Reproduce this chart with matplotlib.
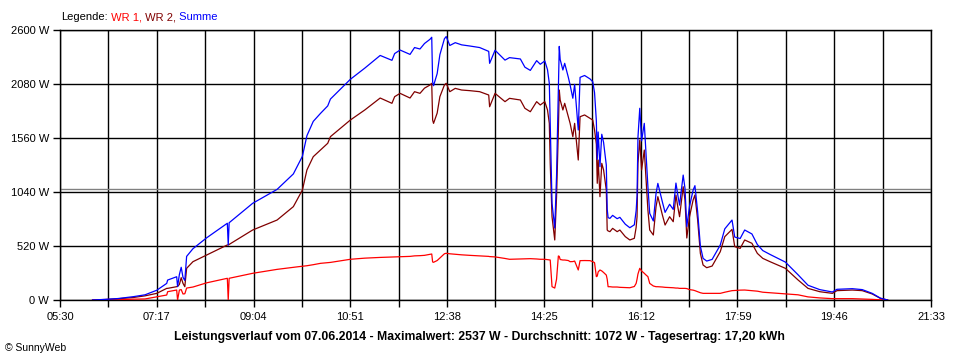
import matplotlib
matplotlib.use("Agg")
import matplotlib.pyplot as plt
from matplotlib.ticker import FixedLocator, FixedFormatter

plt.rcParams["font.family"] = ["Liberation Sans", "DejaVu Sans"]

# Leistungsverlauf 07.06.2014
times = [
    "06:06", "06:20", "06:34", "06:51", "07:04", "07:17", "07:28", "07:29", "07:39", "07:40",
    "07:42", "07:44", "07:46", "07:48", "07:50", "07:57", "08:12", "08:35", "08:36", "08:37",
    "09:03", "09:30", "09:48", "09:53", "09:58", "10:03", "10:10", "10:18", "10:26", "10:29",
    "10:51", "11:07", "11:24", "11:37", "11:40", "11:46", "11:57", "12:02", "12:08", "12:13",
    "12:19", "12:21", "12:22", "12:23", "12:27", "12:30", "12:35", "12:37", "12:41", "12:47",
    "12:54", "13:03", "13:14", "13:24", "13:25", "13:31", "13:42", "13:47", "13:59", "14:04",
    "14:10", "14:17", "14:21", "14:26", "14:29", "14:31", "14:32", "14:34", "14:37", "14:39",
    "14:41", "14:42", "14:43", "14:46", "14:48", "14:52", "14:54", "14:57", "14:59", "15:03",
    "15:05", "15:10", "15:16", "15:19", "15:21", "15:23", "15:24", "15:25", "15:27", "15:29",
    "15:31", "15:34", "15:35", "15:36", "15:38", "15:41", "15:46", "15:49", "15:55", "16:00",
    "16:05", "16:07", "16:08", "16:09", "16:11", "16:13", "16:16", "16:18", "16:20", "16:22",
    "16:26", "16:29", "16:31", "16:36", "16:39", "16:44", "16:48", "16:51", "16:53", "16:55",
    "16:59", "17:01", "17:03", "17:06", "17:10", "17:12", "17:15", "17:18", "17:21", "17:25",
    "17:31", "17:40", "17:45", "17:53", "17:56", "18:02", "18:07", "18:15", "18:21", "18:27",
    "18:35", "18:52", "19:06", "19:17", "19:30", "19:44", "19:49", "20:06", "20:17", "20:28",
    "20:37", "20:45",
]
wr1 = [
    0, 1, 2, 8, 10, 30, 48, 80, 96, 0,
    96, 100, 58, 60, 115, 125, 165, 209, 0, 209,
    257, 295, 315, 320, 325, 330, 340, 353, 360, 362,
    392, 403, 410, 414, 415, 417, 420, 425, 427, 430,
    440, 443, 366, 363, 380, 404, 445, 450, 445, 440,
    435, 430, 425, 420, 418, 415, 400, 392, 395, 396,
    398, 395, 392, 392, 388, 385, 385, 128, 115, 200,
    424, 420, 390, 385, 385, 380, 369, 370, 375, 289,
    379, 380, 379, 369, 360, 225, 230, 270, 289, 280,
    265, 240, 200, 128, 128, 125, 125, 122, 120, 118,
    130, 160, 200, 250, 305, 280, 257, 240, 225, 160,
    135, 128, 128, 125, 122, 120, 118, 115, 115, 112,
    112, 112, 110, 100, 95, 90, 80, 70, 64, 64,
    64, 64, 75, 90, 92, 95, 96, 90, 85, 75,
    70, 60, 50, 30, 20, 13, 13, 13, 10, 6,
    2, 0,
]
wr2 = [
    0, 5, 12, 24, 40, 64, 112, 112, 128, 130,
    150, 215, 160, 128, 305, 369, 433, 530, 530, 535,
    674, 770, 899, 980, 1059, 1252, 1380, 1444, 1509, 1573,
    1733, 1830, 1945, 1894, 1958, 1990, 1945, 2006, 1990, 2040,
    2070, 2087, 1733, 1701, 1800, 1958, 2070, 2087, 2006, 2038,
    2022, 2016, 2006, 1974, 1861, 1990, 1910, 1942, 1926, 1846,
    1813, 1910, 1878, 1910, 1830, 1701, 1316, 802, 578, 995,
    1637, 2022, 1926, 1830, 1894, 1765, 1701, 1573, 1701, 1348,
    1765, 1782, 1750, 1733, 1637, 1500, 1124, 1348, 995, 1316,
    1252, 1059, 674, 665, 658, 690, 658, 674, 610, 578,
    594, 700, 802, 1316, 1541, 1252, 1444, 1156, 867, 674,
    626, 899, 995, 819, 722, 802, 754, 1011, 899, 802,
    1091, 963, 597, 802, 963, 1011, 770, 449, 337, 311,
    327, 465, 610, 680, 514, 497, 578, 546, 449, 401,
    369, 305, 193, 112, 80, 64, 90, 96, 90, 58,
    16, 0,
]
summe = [
    0, 6, 14, 32, 50, 94, 160, 192, 224, 130,
    246, 315, 218, 188, 420, 494, 598, 739, 530, 744,
    931, 1065, 1214, 1300, 1384, 1582, 1720, 1797, 1869, 1935,
    2125, 2233, 2355, 2308, 2373, 2407, 2365, 2431, 2417, 2470,
    2510, 2530, 2099, 2064, 2180, 2362, 2515, 2537, 2451, 2478,
    2457, 2446, 2431, 2394, 2279, 2405, 2310, 2334, 2321, 2242,
    2211, 2305, 2270, 2302, 2218, 2086, 1701, 930, 693, 1195,
    2061, 2442, 2316, 2215, 2279, 2145, 2070, 1943, 2076, 1637,
    2144, 2162, 2129, 2102, 1997, 1725, 1354, 1618, 1284, 1596,
    1517, 1299, 874, 793, 786, 815, 783, 796, 730, 696,
    724, 860, 1002, 1566, 1846, 1532, 1701, 1396, 1092, 834,
    761, 1027, 1123, 944, 844, 922, 872, 1126, 1014, 914,
    1203, 1075, 707, 902, 1058, 1101, 850, 519, 401, 375,
    391, 529, 685, 770, 606, 592, 674, 636, 534, 476,
    439, 365, 243, 142, 100, 77, 103, 109, 100, 64,
    18, 0,
]
tick_labels = ["05:30", "07:17", "09:04", "10:51", "12:38",
               "14:25", "16:12", "17:59", "19:46", "21:33"]
y_ticks = [0, 520, 1040, 1560, 2080, 2600]
durchschnitt = 1072
title = ("Leistungsverlauf vom 07.06.2014 - Maximalwert: 2537 W - "
         "Durchschnitt: 1072 W - Tagesertrag: 17,20 kWh")


def to_min(s):
    h, m = s.split(":")
    return int(h) * 60 + int(m)


x = [to_min(t) for t in times]
major = [to_min(t) for t in tick_labels]
minor = [(a + b) / 2 for a, b in zip(major[:-1], major[1:])]

fig = plt.figure(figsize=(9.6, 3.6), dpi=100)
ax = fig.add_axes([60 / 960, 60 / 360, 871 / 960, 270 / 360])

ax.set_xlim(major[0], major[-1])
ax.set_ylim(0, 2600)

ax.xaxis.set_major_locator(FixedLocator(major))
ax.xaxis.set_major_formatter(FixedFormatter(tick_labels))
ax.xaxis.set_minor_locator(FixedLocator(minor))
ax.yaxis.set_major_locator(FixedLocator(y_ticks))
ax.yaxis.set_major_formatter(FixedFormatter([f"{v} W" for v in y_ticks]))

ax.grid(True, which="both", color="black", linewidth=1.0)
ax.tick_params(axis="both", which="both", direction="out", length=5, width=1.0,
               labelsize=8, color="black")
ax.tick_params(axis="x", which="major", pad=4)
ax.tick_params(axis="y", pad=3)
for sp in ax.spines.values():
    sp.set_linewidth(1.0)
    sp.set_color("black")

ax.axhline(durchschnitt, color="#808080", linewidth=1.0, zorder=2.5)

ax.plot(x, wr1, color="#ff0000", linewidth=0.9, zorder=3)
ax.plot(x, wr2, color="#800000", linewidth=0.9, zorder=3)
ax.plot(x, summe, color="#0000ff", linewidth=0.9, zorder=3)

# legend line at the top, coloured words
fig.canvas.draw()
renderer = fig.canvas.get_renderer()
parts = [("Legende:", "black"), (" WR 1,", "#ff0000"),
         (" WR 2,", "#800000"), (" Summe", "#0000ff")]
lx = 61 / 960
for txt, col in parts:
    t = fig.text(lx, 1 - 17 / 360, txt, color=col, va="center", ha="left", fontsize=8)
    lx += t.get_window_extent(renderer=renderer).width / fig.bbox.width

fig.text(479 / 960, 1 - 337 / 360, title, ha="center", va="center",
         fontsize=8.8, fontweight="bold")
fig.text(5 / 960, 1 - 348 / 360, "© SunnyWeb", ha="left", va="center", fontsize=7.5)

fig.savefig("out.png", dpi=100)
